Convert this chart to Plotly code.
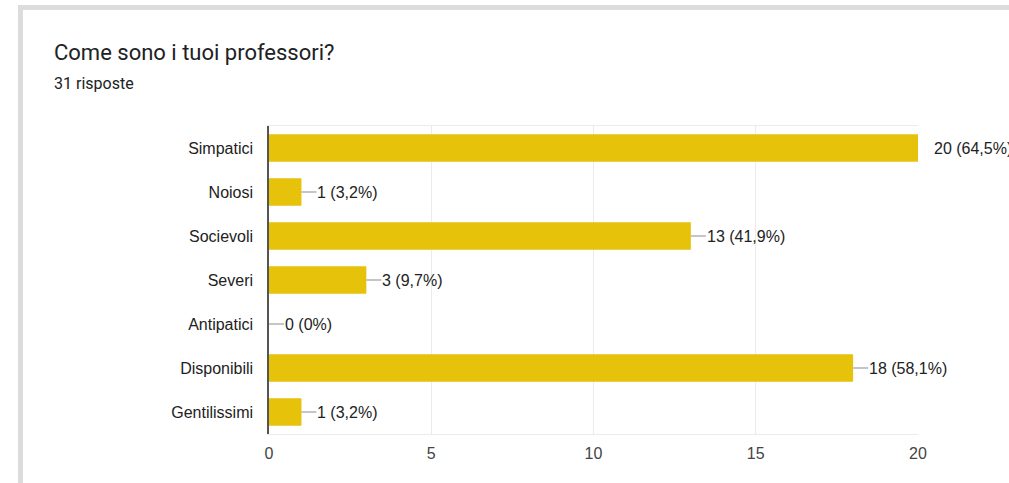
import plotly.graph_objects as go

title = "Come sono i tuoi professori?"
subtitle = "31 risposte"
total_responses = 31
categories = ["Simpatici", "Noiosi", "Socievoli", "Severi", "Antipatici", "Disponibili", "Gentilissimi"]
counts = [20, 1, 13, 3, 0, 18, 1]
x_ticks = [0, 5, 10, 15, 20]

BAR_COLOR = "#E6C20B"
HEAD_FONT = "Roboto, Arial, sans-serif"
CHART_FONT = "Arial, 'Liberation Sans', sans-serif"

W, H = 1009, 483
L, R, T, B = 269, 91, 126, 49
PW, PH = W - L - R, H - T - B
X_MAX = 20


def px_x(px):
    return (px - L) / PW


def px_y(py):
    return (H - B - py) / PH


def fmt_label(n):
    pct = round(n / total_responses * 100, 1)
    pct_txt = f"{pct:.1f}".rstrip("0").rstrip(".").replace(".", ",")
    return f"{n} ({pct_txt}%)"


fig = go.Figure()
fig.add_trace(go.Bar(
    y=categories, x=counts, orientation="h",
    marker=dict(color=BAR_COLOR, line=dict(width=0)),
    width=0.62, hoverinfo="skip",
))

units_per_px = X_MAX / PW
shapes = []
annotations = []
for cat, n in zip(categories, counts):
    # short leader line from the bar end to its value label
    shapes.append(dict(
        type="line", xref="x", yref="y",
        x0=n, x1=n + 15 * units_per_px, y0=cat, y1=cat,
        line=dict(color="#9e9e9e", width=1.2),
    ))
    annotations.append(dict(
        x=n, y=cat, xref="x", yref="y", text=fmt_label(n),
        showarrow=False, xanchor="left", xshift=14,
        font=dict(family=CHART_FONT, size=16, color="#222222"),
    ))

# card border (top and left edges)
shapes.append(dict(type="rect", xref="paper", yref="paper", layer="below",
                   x0=px_x(18), x1=px_x(1012), y0=px_y(10), y1=px_y(5),
                   fillcolor="#dcdcdc", line=dict(width=0)))
shapes.append(dict(type="rect", xref="paper", yref="paper", layer="below",
                   x0=px_x(18), x1=px_x(23), y0=px_y(486), y1=px_y(5),
                   fillcolor="#dcdcdc", line=dict(width=0)))

annotations.append(dict(
    x=px_x(52), y=px_y(52), xref="paper", yref="paper", text=title,
    showarrow=False, xanchor="left", yanchor="middle",
    font=dict(family=HEAD_FONT, size=22, color="#202124"),
))
annotations.append(dict(
    x=px_x(52), y=px_y(84), xref="paper", yref="paper", text=subtitle,
    showarrow=False, xanchor="left", yanchor="middle",
    font=dict(family=HEAD_FONT, size=16, color="#202124"),
))

fig.update_layout(
    width=W, height=H,
    margin=dict(l=L, r=R, t=T, b=B, pad=0),
    paper_bgcolor="white", plot_bgcolor="white",
    showlegend=False,
    shapes=shapes, annotations=annotations,
    font=dict(family=CHART_FONT),
    xaxis=dict(
        range=[0, X_MAX], tickvals=x_ticks, showgrid=True, gridcolor="#ebebeb",
        gridwidth=1, zeroline=False, showline=True, linecolor="#ebebeb",
        linewidth=1, mirror=True, ticks="", ticklabelstandoff=5,
        tickfont=dict(family=CHART_FONT, size=16, color="#444444"), fixedrange=True,
    ),
    yaxis=dict(
        categoryorder="array", categoryarray=categories, autorange="reversed",
        showgrid=False, zeroline=False, showline=True, linecolor="#555555",
        linewidth=1.5, ticks="", ticklabelstandoff=11,
        tickfont=dict(family=CHART_FONT, size=16, color="#222222"), fixedrange=True,
    ),
)

fig.write_html("out.html", config={"displayModeBar": False})
